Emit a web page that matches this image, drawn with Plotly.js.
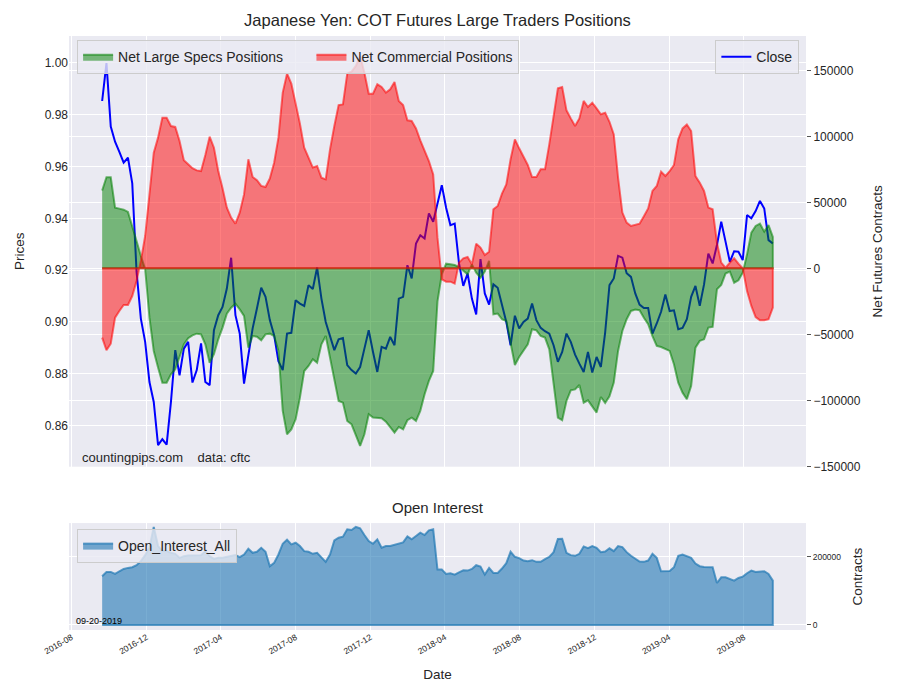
<!DOCTYPE html>
<html>
<head>
<meta charset="utf-8">
<script src="https://cdn.plot.ly/plotly-3.0.1.min.js"></script>
<style>
  body { margin: 0; background: #fff; }
  #chart { width: 900px; height: 700px; }
</style>
</head>
<body>
<div id="chart"></div>
<script>
// weekly COT report data, 2016-09-20 .. 2019-09-17
const firstReport = "2016-09-20";

const closePrice = [
  0.9853, 0.9999, 0.9754, 0.9696, 0.9657, 0.9615, 0.9634, 0.9535, 0.9194, 0.9013,
  0.8923, 0.8768, 0.8691, 0.8524, 0.8547, 0.8526, 0.8691, 0.8891, 0.8794, 0.8897,
  0.8923, 0.8766, 0.8814, 0.8917, 0.8768, 0.8756, 0.8968, 0.9026, 0.9058, 0.9129,
  0.9248, 0.9026, 0.8955, 0.8762, 0.8871, 0.8975, 0.9052, 0.9132, 0.9097, 0.9007,
  0.8949, 0.8848, 0.8814, 0.8955, 0.8958, 0.9084, 0.9071, 0.9062, 0.9142, 0.9127,
  0.9210, 0.9090, 0.9000, 0.8942, 0.8891, 0.8933, 0.8938, 0.8833, 0.8814, 0.8801,
  0.8826, 0.8897, 0.8968, 0.8884, 0.8807, 0.8904, 0.8897, 0.8942, 0.8910, 0.9090,
  0.9097, 0.9219, 0.9168, 0.9303, 0.9335, 0.9322, 0.9419, 0.9387, 0.9460, 0.9528,
  0.9441, 0.9374, 0.9380, 0.9226, 0.9139, 0.9187, 0.9090, 0.9029, 0.9243, 0.9110,
  0.9067, 0.9145, 0.9132, 0.9071, 0.9000, 0.8910, 0.9024, 0.8975, 0.9000, 0.9013,
  0.9071, 0.9007, 0.8977, 0.8964, 0.8955, 0.8910, 0.8846, 0.8884, 0.8955, 0.8923,
  0.8874, 0.8839, 0.8807, 0.8884, 0.8805, 0.8865, 0.8826, 0.8960, 0.9142, 0.9168,
  0.9255, 0.9248, 0.9188, 0.9174, 0.9110, 0.9067, 0.9054, 0.9054, 0.8955, 0.8994,
  0.9039, 0.9106, 0.9042, 0.9045, 0.8972, 0.8977, 0.9011, 0.9097, 0.9139, 0.9062,
  0.9145, 0.9264, 0.9226, 0.9297, 0.9387, 0.9310, 0.9232, 0.9273, 0.9271, 0.9239,
  0.9413, 0.9400, 0.9428, 0.9467, 0.9438, 0.9316, 0.9303
];

const netSpecs = [
  59000, 69000, 69000, 46000, 45200, 44400, 42700, 30800, 20700, 9300,
  -500, -37400, -62600, -75200, -86600, -86600, -80300, -76500, -66400, -57600,
  -53000, -50800, -49500, -50000, -57600, -71500, -65100, -53800, -44900, -34300,
  -29800, -26800, -31100, -36100, -60100, -51300, -51800, -54500, -50000, -49500,
  -51300, -62600, -108000, -125700, -122000, -114400, -98000, -77800, -74000, -68900,
  -71500, -57600, -51300, -67700, -85300, -100500, -101800, -115600, -118200, -125700,
  -134600, -125700, -110600, -113100, -113100, -113600, -116200, -120700, -124500, -120200,
  -122000, -115100, -113100, -115600, -108000, -95400, -85300, -77800, -25000, -4500,
  3500, 3000, 2500, 1000, -2000, -4500, 3000, -3300, -7100, -2500,
  5600, -34800, -34300, -38600, -39900, -56300, -73200, -67200, -62100, -57600,
  -46200, -47000, -51300, -52500, -61400, -89100, -113100, -115100, -100500, -92400,
  -91700, -88400, -101800, -100000, -105000, -109300, -97500, -102000, -97000, -86600,
  -62600, -47500, -38600, -32300, -31300, -31800, -37400, -42400, -51300, -58800,
  -59600, -61400, -62600, -72700, -86600, -94200, -99200, -89100, -60100, -55000,
  -53800, -44900, -44400, -15900, -12600, -4000, -2500, -10900, -9100, -3300,
  10600, 27000, 32100, 33800, 27800, 32800, 23700
];

const netCommercial = [
  -52500, -62100, -57100, -37400, -32300, -27800, -27800, -21000, -9600, 5600,
  24500, 56000, 87600, 99000, 114100, 114100, 107800, 107100, 96500, 81800,
  78800, 75800, 74200, 73700, 85900, 99700, 91400, 73700, 60600, 46000,
  38400, 33800, 42200, 56000, 82600, 69200, 66700, 62400, 61600, 68000,
  80000, 99000, 133100, 147500, 139900, 125500, 109600, 91400, 83300, 76300,
  77500, 68700, 67400, 90100, 107800, 123700, 124200, 147500, 149000, 153300,
  160800, 148200, 132300, 132300, 139400, 137400, 133100, 135600, 141100, 126800,
  123700, 112100, 111600, 106000, 97000, 89400, 81300, 71200, 23200, -8300,
  -10100, -10100, -11600, 4300, 7600, 8600, 3000, 18700, 15700, 10100,
  12600, 44700, 47200, 56600, 63600, 82600, 97700, 90900, 84300, 78300,
  69200, 69200, 75000, 75000, 93900, 116200, 136400, 137400, 119700, 113600,
  107800, 113600, 126800, 122200, 125500, 121200, 116700, 117900, 111000, 101500,
  68700, 42200, 34600, 32100, 32800, 33800, 39400, 45400, 58600, 62400,
  73200, 69900, 73700, 78300, 97700, 106000, 109000, 104000, 69900, 64900,
  58600, 46000, 44700, 19400, 4300, 500, 4300, 7600, 3500, 0,
  -17200, -28500, -36900, -39400, -39400, -38600, -29800
];

const openInterest = [
  142800, 155600, 155600, 149700, 157600, 164500, 167500, 169400, 175300, 187200,
  204900, 226600, 287600, 231500, 216700, 216700, 211800, 208800, 197000, 201900,
  203900, 203900, 204900, 204900, 216700, 201900, 194000, 197000, 197000, 200000,
  201900, 204900, 199000, 206800, 223600, 211800, 214700, 226600, 214700, 172400,
  182200, 206800, 238400, 250200, 236400, 241300, 231500, 216700, 214700, 208800,
  211800, 199000, 185200, 206800, 248200, 256100, 259100, 280700, 278800, 287600,
  283700, 264000, 246300, 238400, 251200, 226600, 231500, 231500, 234400, 238400,
  242300, 260000, 251200, 261000, 270900, 264000, 277800, 280700, 162500, 162500,
  149700, 151700, 147800, 154600, 160600, 159600, 164500, 175300, 171400, 147800,
  167500, 152700, 152700, 165500, 181200, 214700, 200000, 196000, 189100, 187200,
  190100, 185200, 185200, 193100, 200000, 213700, 252200, 253100, 211800, 204900,
  202900, 208800, 230500, 225600, 231500, 226600, 213700, 215700, 225000, 216700,
  231500, 228500, 213700, 202900, 194000, 186200, 185200, 189100, 208800, 197000,
  157600, 157600, 158600, 169400, 202900, 206800, 201900, 197000, 180300, 172400,
  170400, 170400, 169400, 123100, 139900, 139900, 134900, 130000, 137900, 141800,
  151700, 159600, 155600, 157600, 157600, 149700, 130000
];

// one report every tuesday
const dates = [];
let d = new Date(firstReport + "T00:00:00Z");
for (let i = 0; i < closePrice.length; i++) {
    dates.push(d.toISOString().slice(0, 10));
    d = new Date(d.getTime() + 7 * 86400000);
}

// closed shape down to zero, the way fill_between draws it
function area(x, y) {
    return {
        x: x.concat(x.slice().reverse()),
        y: y.concat(y.map(() => 0))
    };
}

const specsArea = area(dates, netSpecs);
const commArea = area(dates, netCommercial);
const oiArea = area(dates, openInterest);

const xRange = ["2016-07-28", "2019-11-10"];
const grid = "#ffffff";
const pad = "\u00a0".repeat(6); // widen gap between the two legend entries
const legendBox = {
    bgcolor: "rgba(234,234,242,0.8)",
    bordercolor: "#cccccc",
    borderwidth: 1,
    font: { size: 14, color: "#262626" }
};

const traces = [
    {
        x: dates, y: closePrice,
        xaxis: "x", yaxis: "y",
        type: "scatter", mode: "lines",
        name: "Close", legend: "legend2",
        line: { color: "#0000ff", width: 2 }
    },
    {
        x: specsArea.x, y: specsArea.y,
        xaxis: "x", yaxis: "y2",
        type: "scatter", mode: "lines", fill: "toself",
        name: "Net Large Specs Positions" + pad, legend: "legend",
        fillcolor: "rgba(0,128,0,0.5)",
        line: { color: "rgba(0,128,0,0.55)", width: 2 }
    },
    {
        x: commArea.x, y: commArea.y,
        xaxis: "x", yaxis: "y2",
        type: "scatter", mode: "lines", fill: "toself",
        name: "Net Commercial Positions", legend: "legend",
        fillcolor: "rgba(255,0,0,0.5)",
        line: { color: "rgba(255,0,0,0.55)", width: 2 }
    },
    {
        x: oiArea.x, y: oiArea.y,
        xaxis: "x2", yaxis: "y3",
        type: "scatter", mode: "lines", fill: "toself",
        name: "Open_Interest_All", legend: "legend3",
        fillcolor: "rgba(31,119,180,0.6)",
        line: { color: "rgba(31,119,180,0.7)", width: 2 }
    }
];

const layout = {
    width: 900,
    height: 700,
    paper_bgcolor: "#ffffff",
    plot_bgcolor: "#EAEAF2",
    font: { family: "Liberation Sans, Arial, sans-serif", size: 12, color: "#262626" },
    margin: { l: 69, r: 94, t: 36, b: 70 },
    title: {
        text: "Japanese Yen: COT Futures Large Traders Positions",
        font: { size: 16.5, color: "#262626" },
        x: 0.5, xref: "paper", xanchor: "center",
        y: 0.971, yref: "container", yanchor: "middle"
    },
    showlegend: true,
    legend: Object.assign({
        x: 0.011, y: 0.993, xanchor: "left", yanchor: "top",
        orientation: "h"
    }, legendBox),
    legend2: Object.assign({
        x: 0.991, y: 0.993, xanchor: "right", yanchor: "top"
    }, legendBox),
    legend3: Object.assign({
        x: 0.011, y: 0.17, xanchor: "left", yanchor: "top"
    }, legendBox),
    xaxis: {
        domain: [0, 1], anchor: "y", type: "date", range: xRange,
        tick0: "2016-08-01", dtick: "M4",
        showticklabels: false, gridcolor: grid, zeroline: false, showline: false
    },
    yaxis: {
        domain: [0.2749, 1], anchor: "x",
        range: [0.8441, 1.0104], tick0: 0.86, dtick: 0.02, tickformat: ".2f",
        gridcolor: grid, zeroline: false, showline: false,
        title: { text: "Prices", font: { size: 13.5 }, standoff: 16 }
    },
    yaxis2: {
        overlaying: "y", side: "right", anchor: "x",
        range: [-150300, 176000], tick0: 0, dtick: 50000, tickformat: "d",
        gridcolor: grid, zeroline: false, showline: false,
        ticks: "outside", ticklen: 4, tickcolor: "#555555",
        title: { text: "Net Futures Contracts", font: { size: 13.5 }, standoff: 12 }
    },
    xaxis2: {
        domain: [0, 1], anchor: "y3", type: "date", range: xRange,
        tick0: "2016-08-01", dtick: "M4", tickformat: "%Y-%m", tickangle: -30,
        tickfont: { size: 8.5 },
        gridcolor: grid, zeroline: false, showline: false,
        title: { text: "Date", font: { size: 13.5 }, standoff: 14 }
    },
    yaxis3: {
        domain: [0, 0.18], anchor: "x2", side: "right",
        range: [-14800, 299000], tickvals: [0, 200000], tickformat: "d",
        tickfont: { size: 8.5 },
        gridcolor: grid, zeroline: false, showline: false,
        ticks: "outside", ticklen: 4, tickcolor: "#555555",
        title: { text: "Contracts", font: { size: 13.5 }, standoff: 12 }
    },
    annotations: [
        {
            text: "countingpips.com\u00a0\u00a0\u00a0\u00a0data: cftc",
            xref: "paper", yref: "paper", x: 0.0149, y: 0.2896,
            xanchor: "left", yanchor: "middle", showarrow: false,
            font: { size: 13, color: "#262626" }
        },
        {
            text: "09-20-2019",
            xref: "paper", yref: "paper", x: 0.0068, y: 0.0152,
            xanchor: "left", yanchor: "middle", showarrow: false,
            font: { size: 9, color: "#000000" }
        },
        {
            text: "Open Interest",
            xref: "paper", yref: "paper", x: 0.5, y: 0.2054,
            xanchor: "center", yanchor: "middle", showarrow: false,
            font: { size: 15, color: "#262626" }
        }
    ]
};

Plotly.newPlot("chart", traces, layout, { displayModeBar: false, staticPlot: true });
</script>
</body>
</html>
